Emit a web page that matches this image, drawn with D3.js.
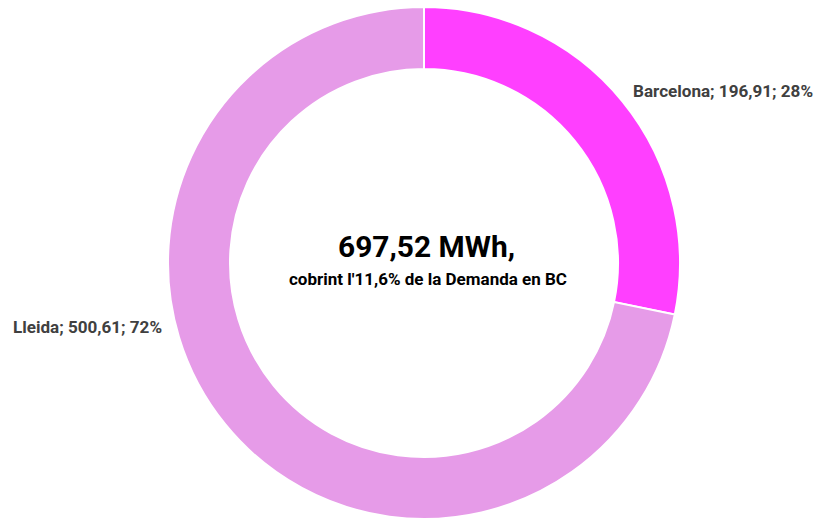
<!DOCTYPE html>
<html>
<head>
<meta charset="utf-8">
<script src="https://cdn.jsdelivr.net/npm/d3@7"></script>
<style>
  body { margin: 0; background: #fff; }
</style>
</head>
<body>
<div id="chart"></div>
<script>
var regions = ["Barcelona", "Lleida"];
var energy = [196.91, 500.61];
var percents = ["28%", "72%"];
var sliceColors = ["#ff3fff", "#e69be8"];
var centerTitle = "697,52 MWh,";
var centerSub = "cobrint l'11,6% de la Demanda en BC";

var width = 817, height = 520;
var cx = 424, cy = 263;
var outerR = 256, innerR = 194;

var svg = d3.select("#chart")
  .append("svg")
  .attr("width", width)
  .attr("height", height);

var g = svg.append("g")
  .attr("transform", "translate(" + cx + "," + cy + ")");

var pie = d3.pie()
  .value(function(d) { return d; })
  .sort(null);

var arc = d3.arc()
  .innerRadius(innerR)
  .outerRadius(outerR);

var arcs = pie(energy);

g.selectAll("path")
  .data(arcs)
  .enter()
  .append("path")
  .attr("d", arc)
  .attr("fill", function(d, i) { return sliceColors[i]; })
  .style("stroke", "#fff")
  .style("stroke-width", 2);

// number with comma decimals, like 196,91
function fmt(v) {
  return d3.format(".2f")(v).replace(".", ",");
}

// label positions: Barcelona up-right, Lleida left
var labelPos = [
  {x: 633 - cx, y: 97 - cy, w: 180},
  {x: 13 - cx, y: 333 - cy, w: 149}
];

g.selectAll(".lbl")
  .data(arcs)
  .enter()
  .append("text")
  .attr("class", "lbl")
  .attr("x", function(d, i) { return labelPos[i].x; })
  .attr("y", function(d, i) { return labelPos[i].y; })
  .attr("textLength", function(d, i) { return labelPos[i].w; })
  .attr("lengthAdjust", "spacingAndGlyphs")
  .style("font-family", "Roboto, 'Liberation Sans', sans-serif")
  .style("font-weight", "bold")
  .style("font-size", "16px")
  .style("fill", "#404040")
  .text(function(d, i) { return regions[i] + "; " + fmt(energy[i]) + "; " + percents[i]; });

g.append("text")
  .attr("x", 426.5 - cx)
  .attr("y", 257 - cy)
  .attr("text-anchor", "middle")
  .attr("textLength", 177)
  .attr("lengthAdjust", "spacingAndGlyphs")
  .style("font-family", "Roboto, sans-serif")
  .style("font-weight", "bold")
  .style("font-size", "30px")
  .style("fill", "#000")
  .text(centerTitle);

g.append("text")
  .attr("x", 428 - cx)
  .attr("y", 285 - cy)
  .attr("text-anchor", "middle")
  .attr("textLength", 278)
  .attr("lengthAdjust", "spacingAndGlyphs")
  .style("font-family", "Roboto, sans-serif")
  .style("font-weight", "bold")
  .style("font-size", "17px")
  .style("fill", "#000")
  .text(centerSub);
</script>
</body>
</html>
